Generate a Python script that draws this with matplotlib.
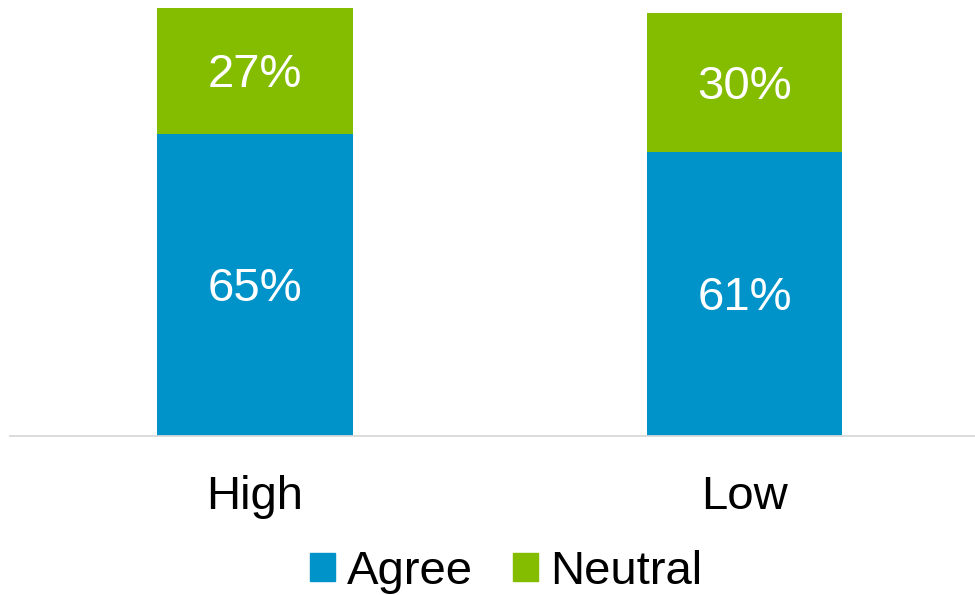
import matplotlib.pyplot as plt
from matplotlib.patches import Patch

plt.rcParams['font.family'] = ['Liberation Sans', 'DejaVu Sans']

groups = ["High", "Low"]
agree = [65, 61]
neutral = [27, 30]

blue = "#0093C9"
green = "#84BC00"

fig = plt.figure(figsize=(9.75, 5.95), dpi=100)
ax = fig.add_axes([10/975, 159/595, 965/975, 428/595])

x = range(len(groups))
ax.bar(x, agree, width=0.4, color=blue)
ax.bar(x, neutral, width=0.4, bottom=agree, color=green)

for i in x:
    ax.annotate(f"{agree[i]}%", (i, agree[i]/2), xytext=(0, -3), textcoords='offset points',
                ha='center', va='center', color='white', fontsize=34)
    ax.annotate(f"{neutral[i]}%", (i, agree[i] + neutral[i]/2), xytext=(0, -3),
                textcoords='offset points', ha='center', va='center', color='white', fontsize=34)

ax.set_xlim(-0.5006, 1.471)
ax.set_ylim(0, 92)
ax.set_xticks(list(x))
ax.set_xticklabels(groups, fontsize=34)
ax.tick_params(axis='x', length=0, pad=28)
ax.set_yticks([])
for s in ['top', 'right', 'left']:
    ax.spines[s].set_visible(False)
ax.spines['bottom'].set_color('#d9d9d9')
ax.spines['bottom'].set_linewidth(1.3)

handles = [Patch(color=blue, label="Agree"), Patch(color=green, label="Neutral")]
fig.legend(handles=handles, loc='center', bbox_to_anchor=(506/975, 1 - 572/595),
           ncol=2, frameon=False, fontsize=34, handlelength=0.52, handleheight=0.52,
           handletextpad=0.26, columnspacing=0.85, borderpad=0.1)

fig.savefig("out.png", dpi=100)
